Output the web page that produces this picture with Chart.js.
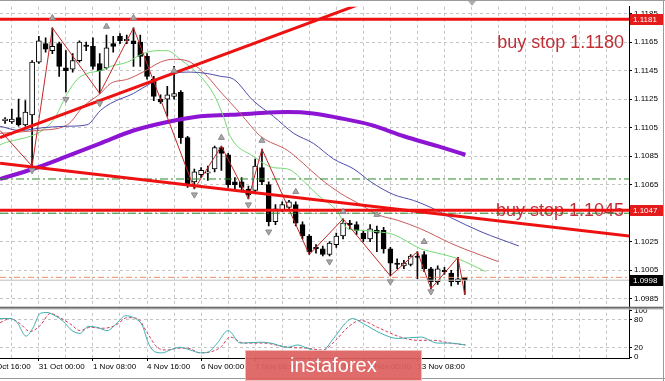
<!DOCTYPE html>
<html>
<head>
<meta charset="utf-8">
<title>EURUSD H4</title>
<script src="https://cdn.jsdelivr.net/npm/chart.js@4.4.1/dist/chart.umd.min.js"></script>
<style>
  html, body { margin: 0; padding: 0; background: #fff; }
</style>
</head>
<body>
<canvas id="chart" width="665" height="381"></canvas>
<script>
// --- bougies H4 (index de barre 0 = 30 Oct 04:00) ---
const barOpen = [
  1.1110, 1.1109, 1.1112, 1.1107, 1.1114, 1.1151, 1.1164, 1.1159, 1.1164, 1.1147,
  1.1146, 1.1152, 1.1163, 1.1162, 1.1150, 1.1147, 1.1164, 1.1169, 1.1166, 1.1166,
  1.1165, 1.1155, 1.1139, 1.1125, 1.1125, 1.1127, 1.1130, 1.1098, 1.1067, 1.1072,
  1.1073, 1.1076, 1.1091, 1.1086, 1.1067, 1.1067, 1.1062, 1.1061, 1.1077, 1.1065,
  1.1039, 1.1047, 1.1049, 1.1051, 1.1037, 1.1029, 1.1021, 1.1020, 1.1016, 1.1023,
  1.1029, 1.1038, 1.1037, 1.1031, 1.1027, 1.1033, 1.1033, 1.1020, 1.1010, 1.1008,
  1.1009, 1.1015, 1.1016, 1.1006, 1.0997, 1.1005, 1.1003, 1.0997, 1.1000
];
const barHigh = [
  1.1112, 1.1118, 1.1125, 1.1124, 1.1152, 1.1169, 1.1168, 1.1175, 1.1165, 1.1159,
  1.1157, 1.1166, 1.1165, 1.1168, 1.1157, 1.1170, 1.1169, 1.1171, 1.1170, 1.1175,
  1.1170, 1.1157, 1.1141, 1.1128, 1.1134, 1.1148, 1.1131, 1.1099, 1.1076, 1.1077,
  1.1078, 1.1092, 1.1092, 1.1087, 1.1070, 1.1070, 1.1064, 1.1083, 1.1090, 1.1067,
  1.1051, 1.1053, 1.1054, 1.1053, 1.1039, 1.1030, 1.1023, 1.1022, 1.1025, 1.1031,
  1.1041, 1.1040, 1.1039, 1.1033, 1.1037, 1.1036, 1.1035, 1.1021, 1.1013, 1.1012,
  1.1016, 1.1018, 1.1018, 1.1007, 1.1008, 1.1007, 1.1005, 1.1014, 1.1000
];
const barLow = [
  1.1108, 1.1108, 1.1106, 1.1106, 1.1078, 1.1150, 1.1158, 1.1157, 1.1141, 1.1130,
  1.1144, 1.1151, 1.1159, 1.1146, 1.1129, 1.1146, 1.1158, 1.1164, 1.1164, 1.1148,
  1.1148, 1.1139, 1.1124, 1.1122, 1.1113, 1.1125, 1.1094, 1.1063, 1.1062, 1.1070,
  1.1068, 1.1074, 1.1075, 1.1063, 1.1062, 1.1060, 1.1055, 1.1060, 1.1065, 1.1036,
  1.1037, 1.1046, 1.1048, 1.1036, 1.1027, 1.1016, 1.1017, 1.1015, 1.1015, 1.1021,
  1.1027, 1.1034, 1.1030, 1.1025, 1.1025, 1.1018, 1.1017, 1.1001, 1.1006, 1.1006,
  1.1008, 1.0999, 1.1004, 1.0992, 1.0995, 1.1002, 1.0994, 1.0995, 1.0988
];
const barClose = [
  1.1111, 1.1111, 1.1107, 1.1116, 1.1151, 1.1166, 1.1160, 1.1162, 1.1148, 1.1145,
  1.1152, 1.1165, 1.1162, 1.1148, 1.1145, 1.1161, 1.1162, 1.1166, 1.1167, 1.1164,
  1.1155, 1.1141, 1.1127, 1.1123, 1.1128, 1.1129, 1.1098, 1.1065, 1.1074, 1.1075,
  1.1074, 1.1091, 1.1087, 1.1065, 1.1065, 1.1063, 1.1058, 1.1078, 1.1067, 1.1039,
  1.1048, 1.1051, 1.1053, 1.1038, 1.1029, 1.1018, 1.1020, 1.1016, 1.1024, 1.1029,
  1.1038, 1.1037, 1.1033, 1.1027, 1.1034, 1.1031, 1.1020, 1.1010, 1.1009, 1.1010,
  1.1015, 1.1014, 1.1006, 1.0997, 1.1006, 1.1004, 1.0997, 1.0999, 1.0998
];

// --- Alligator (décalé vers la droite) + MA violette : [barre, prix] ---
const lipsPts = [[-0.74,1.1093],[7.1,1.1110],[9.2,1.1129],[10.7,1.1139],[12.1,1.1143],[14.1,1.1145],[15.6,1.1148],[18.1,1.1151],[20.4,1.1157],[22.5,1.1159],[24,1.1159],[25.9,1.1153],[28.9,1.1141],[30.8,1.1129],[32.3,1.1113],[33.3,1.1099],[36.7,1.1085],[39.7,1.1077],[41.8,1.1076],[44.7,1.1065],[46.2,1.1058],[49.2,1.1046],[50.7,1.1034],[52.6,1.1033],[55.1,1.1032],[57.5,1.1030],[61.5,1.1020],[64,1.1017],[67,1.1013],[71.1,1.1004]];
const teethPts = [[-0.74,1.1101],[4.7,1.1103],[9.2,1.1107],[11.6,1.1120],[14.1,1.1129],[15.6,1.1136],[18.1,1.1139],[20.4,1.1144],[23,1.1151],[24.9,1.1153],[27.4,1.1151],[29.9,1.1141],[31.9,1.1130],[34.8,1.1115],[37.8,1.1099],[41.8,1.1089],[44.1,1.1080],[46.7,1.1069],[49.6,1.1059],[52.6,1.1051],[55.1,1.1044],[58.1,1.1040],[61.5,1.1034],[65.9,1.1024],[67.9,1.1020],[73,1.1011]];
const jawPts = [[-0.74,1.1106],[2.2,1.1103],[5.6,1.1105],[9.2,1.1106],[12.1,1.1107],[14.1,1.1117],[15.6,1.1122],[19,1.1129],[21.5,1.1136],[24.9,1.1143],[27.4,1.1144],[29.9,1.1143],[31.9,1.1141],[33.8,1.1139],[36.7,1.1124],[39.7,1.1113],[42.7,1.1101],[45.6,1.1094],[48.6,1.1083],[51.6,1.1076],[54.1,1.1067],[57.5,1.1058],[60.4,1.1054],[63,1.1049],[65.9,1.1042],[70.4,1.1032],[76,1.1022]];
const maPts = [[-0.74,1.1069],[4.1,1.1076],[9.2,1.1085],[14.1,1.1094],[19,1.1103],[24,1.1109],[28.9,1.1113],[33.3,1.1114],[36.7,1.1115],[41.8,1.1116],[45.6,1.1115],[49.2,1.1112],[54.1,1.1107],[59,1.1099],[64,1.1092],[68.1,1.1086]];
const zigzagPts = [[-0.74,1.1103],[4,1.1078],[7,1.1175],[14,1.1129],[19,1.1175],[28,1.1062],[32,1.1092],[36,1.1055],[38,1.1090],[45,1.1016],[50,1.1041],[57,1.1001],[61,1.1018],[63,1.0992],[67,1.1014],[68,1.0988]];
const fractalUp = [[7,1.1182],[15,1.1176],[19,1.1182],[25,1.1145],[32,1.1098],[38,1.1096],[43,1.1060],[50,1.1046],[55,1.1044],[62,1.1025]];
const fractalDown = [[4,1.1075],[9,1.1125],[14,1.1122],[28,1.1058],[36,1.1051],[39,1.1032],[48,1.1011],[57,1.0997],[63,1.0990]];

// --- objets graphiques ---
const trendUp = [[-0.74,1.1098],[52.1,1.1191]];
const trendDown = [[-0.74,1.1080],[92.4,1.1029]];
const redLevels = [1.1181, 1.1047];
const greenLevels = [1.1069, 1.1045];
const orangeLevel = 1.1000;
const bidLevel = 1.0998;
const noteTexts = ['buy stop 1.1180', 'buy stop 1.1045'];
const notePrices = [1.1161, 1.1043];
const tagPrices = [1.1181, 1.1047, 1.0998];

// --- stochastique ---
const stochK = [[-0.74,83],[0.74,83],[1.8,74],[3.1,45],[4.1,62],[5.2,94],[6.2,96],[7.4,89],[8.6,77],[9.9,57],[11.1,51],[12.3,66],[13.6,64],[15.1,57],[16.6,74],[17.8,89],[19,85],[20.3,68],[21.2,30],[22.2,11],[23.3,9],[24.4,15],[25.9,21],[27.4,15],[28.9,9],[30.1,11],[31.4,30],[33,57],[34.8,30],[37.8,32],[39.3,30],[41.8,21],[43.3,26],[44.7,19],[46.7,11],[48.6,40],[50.4,74],[51.4,83],[53,72],[55.6,51],[58.1,40],[61.5,43],[64,30],[65.9,30],[68.1,26]];
const stochD = [[-0.74,74],[0.74,83],[2.2,72],[3.7,55],[5.2,68],[6.7,94],[8.1,85],[9.6,72],[11.1,57],[12.6,64],[14.5,62],[16.3,68],[18.1,85],[19.6,83],[21,53],[22.5,21],[24,15],[25.5,19],[27,19],[28.9,9],[30.4,11],[31.9,21],[33.3,43],[35.3,30],[38.2,30],[41.8,21],[44.7,19],[47,15],[48.9,36],[50.7,64],[52.6,79],[55.1,64],[58.5,43],[61,36],[63.4,36],[65.9,30],[68.1,26]];

// --- axes ---
const xMin = -0.75, xMax = 92.3;
const priceMin = 1.09794, priceMax = 1.11898;
const priceTicks = [1.0985, 1.1005, 1.1025, 1.1045, 1.1065, 1.1085, 1.1105, 1.1125, 1.1145, 1.1165, 1.1185];
const stochTicks = [0, 20, 80, 100];
const timeTickBars = [-3, 5, 13, 21, 29, 37, 45, 53, 61];
const timeTickLabels = ['29 Oct 16:00', '31 Oct 00:00', '1 Nov 08:00', '4 Nov 16:00', '6 Nov 00:00', '7 Nov 08:00', '8 Nov 16:00', '12 Nov 00:00', '13 Nov 08:00'];

const FONT = '"Liberation Sans", Arial, sans-serif';
Chart.defaults.font.family = FONT;

const pts = arr => arr.map(p => ({ x: p[0], y: p[1] }));
const flat = v => [{ x: xMin, y: v }, { x: xMax, y: v }];

function lineSet(data, color, width, extra) {
    return Object.assign({
        type: 'line', data: data, borderColor: color, borderWidth: width,
        pointRadius: 0, fill: false, tension: 0, yAxisID: 'y'
    }, extra || {});
}

const wickData = barHigh.map((h, i) => ({ x: i, y: [barLow[i], h] }));
const bodyData = barOpen.map((o, i) => ({ x: i, y: [o, barClose[i]] }));
const bodyColors = barOpen.map((o, i) => barClose[i] >= o ? '#ffffff' : '#000000');

// petits extras façon MT4 : textes, étiquettes de prix, séparateur, filigrane
const mt4Extras = {
    id: 'mt4Extras',
    beforeDatasetsDraw(chart) {
        const ctx = chart.ctx, x = chart.scales.x, y = chart.scales.y;
        ctx.save();
        ctx.font = '18px ' + FONT;
        ctx.fillStyle = '#bf2f37';
        ctx.textAlign = 'right';
        ctx.textBaseline = 'alphabetic';
        noteTexts.forEach((t, k) => ctx.fillText(t, x.getPixelForValue(xMax) - 5, y.getPixelForValue(notePrices[k])));
        ctx.restore();
    },
    afterDatasetsDraw(chart) {
        const ctx = chart.ctx, y = chart.scales.y, area = chart.chartArea;
        ctx.save();
        // séparateur entre les deux fenêtres (prix / stochastique)
        ctx.fillStyle = '#6a6a6a';
        ctx.fillRect(area.left, y.bottom, 663 - area.left, 2);
        ctx.fillStyle = '#c8c8c8';
        ctx.fillRect(area.left, y.bottom + 2, 663 - area.left, 1);
        ctx.restore();
    },
    afterDraw(chart) {
        const ctx = chart.ctx, y = chart.scales.y, area = chart.chartArea;
        ctx.save();
        // étiquettes de prix sur l'axe
        const tagBg = ['#e41b1b', '#e41b1b', '#000000'];
        ctx.font = '8px ' + FONT;
        ctx.textAlign = 'left';
        ctx.textBaseline = 'middle';
        tagPrices.forEach((p, k) => {
            const py = Math.round(y.getPixelForValue(p));
            ctx.fillStyle = tagBg[k];
            ctx.fillRect(area.right + 1, py - 5, 33, 11);
            ctx.fillStyle = '#ffffff';
            ctx.fillText(p.toFixed(4), area.right + 4, py + 0.5);
        });
        // cadre
        ctx.fillStyle = '#9a9a9a';
        ctx.fillRect(0, 0, 665, 1);
        ctx.fillRect(0, 378, 665, 1);
        ctx.fillRect(663, 0, 1, 381);
        // triangle de décalage du graphique
        ctx.fillStyle = '#b0b0b0';
        ctx.beginPath();
        ctx.moveTo(468, 1); ctx.lineTo(476, 1); ctx.lineTo(472, 6); ctx.closePath();
        ctx.fill();
        // filigrane
        ctx.fillStyle = 'rgba(222, 96, 96, 0.93)';
        ctx.fillRect(245, 350, 177, 31);
        ctx.strokeStyle = 'rgba(255,255,255,0.55)';
        ctx.strokeRect(245.5, 350.5, 176, 30);
        ctx.fillStyle = '#ffffff';
        ctx.font = '20px ' + FONT;
        ctx.textBaseline = 'alphabetic';
        ctx.fillText('instaforex', 290, 372);
        ctx.restore();
    }
};

const chart = new Chart(document.getElementById('chart').getContext('2d'), {
    type: 'bar',
    data: {
        datasets: [
            { type: 'bar', data: wickData, backgroundColor: '#000', borderWidth: 0, barThickness: 1, grouped: false, order: 20, yAxisID: 'y' },
            { type: 'bar', data: bodyData, backgroundColor: bodyColors, borderColor: '#000', borderWidth: 1, borderSkipped: false, barThickness: 5, grouped: false, order: 19, yAxisID: 'y' },
            lineSet(pts(maPts), '#8c14d2', 4, { cubicInterpolationMode: 'monotone', order: 12 }),
            lineSet(pts(jawPts), '#4c4ca8', 1, { cubicInterpolationMode: 'monotone', order: 11 }),
            lineSet(pts(teethPts), '#c85a5a', 1, { cubicInterpolationMode: 'monotone', order: 11 }),
            lineSet(pts(lipsPts), '#72d872', 1, { cubicInterpolationMode: 'monotone', order: 11 }),
            lineSet(pts(zigzagPts), '#c42626', 1, { order: 9 }),
            lineSet(flat(greenLevels[0]), '#2b8a2b', 1, { borderDash: [8, 3, 2, 3], order: 8 }),
            lineSet(flat(greenLevels[1]), '#2b8a2b', 1, { borderDash: [8, 3, 2, 3], order: 8 }),
            lineSet(flat(orangeLevel), '#f08a5e', 1, { borderDash: [6, 3, 2, 3], order: 8 }),
            lineSet(flat(bidLevel), '#bdbdbd', 1, { order: 8 }),
            lineSet(pts(trendUp), '#ee1111', 3, { order: 6 }),
            lineSet(pts(trendDown), '#ee1111', 3, { order: 6 }),
            lineSet(flat(redLevels[0]), '#ee1111', 3, { order: 6 }),
            lineSet(flat(redLevels[1]), '#ee1111', 3, { order: 6 }),
            { type: 'scatter', data: pts(fractalUp), pointStyle: 'triangle', pointRadius: 3.5, pointRotation: 0,
              backgroundColor: '#a8a8a8', borderColor: '#8a8a8a', borderWidth: 1, order: 5, yAxisID: 'y' },
            { type: 'scatter', data: pts(fractalDown), pointStyle: 'triangle', pointRadius: 3.5, pointRotation: 180,
              backgroundColor: '#a8a8a8', borderColor: '#8a8a8a', borderWidth: 1, order: 5, yAxisID: 'y' },
            lineSet(pts(stochK), '#3fb0b0', 1, { yAxisID: 'ys', cubicInterpolationMode: 'monotone', order: 3 }),
            lineSet(pts(stochD), '#d43c5c', 1, { yAxisID: 'ys', borderDash: [3, 2], cubicInterpolationMode: 'monotone', order: 3 })
        ]
    },
    options: {
        responsive: false,
        animation: false,
        layout: { padding: { top: 2, left: 0, right: 0, bottom: 0 }, autoPadding: false },
        plugins: { legend: { display: false }, tooltip: { enabled: false } },
        scales: {
            x: {
                type: 'linear', min: xMin, max: xMax, offset: false,
                afterBuildTicks: s => {
                    const t = [];
                    for (let b = -3; b <= xMax; b += 4) t.push({ value: b });
                    s.ticks = t;
                },
                // le premier libellé déborde à gauche comme dans MT4 : pas de marge auto
                afterFit: s => { s.height = 23; s.paddingLeft = 0; s.paddingRight = 0; },
                grid: {
                    offset: false, color: '#c4c4c4', drawTicks: true, tickLength: 3,
                    tickColor: c => (c.tick && timeTickBars.includes(c.tick.value)) ? '#000' : 'rgba(0,0,0,0)'
                },
                border: { display: true, color: '#000', dash: [3, 3] },
                ticks: {
                    autoSkip: false, maxRotation: 0, minRotation: 0, align: 'start', padding: 1,
                    color: '#000', font: { size: 8 },
                    callback: v => {
                        const k = timeTickBars.indexOf(v);
                        return k >= 0 ? timeTickLabels[k] : '';
                    }
                }
            },
            y: {
                type: 'linear', position: 'right', stack: 'panes', stackWeight: 304,
                min: priceMin, max: priceMax,
                afterBuildTicks: s => { s.ticks = priceTicks.map(v => ({ value: v })); },
                afterFit: s => { s.width = 36; },
                grid: { color: '#c4c4c4', tickLength: 3, tickColor: '#000' },
                border: { display: true, color: '#000', dash: [3, 3] },
                ticks: { autoSkip: false, padding: 2, color: '#000', font: { size: 8 }, callback: v => v.toFixed(4) }
            },
            ys: {
                type: 'linear', position: 'right', stack: 'panes', stackWeight: 52,
                min: -2.13, max: 108.5,
                afterBuildTicks: s => { s.ticks = stochTicks.map(v => ({ value: v })); },
                afterFit: s => { s.width = 36; },
                grid: {
                    color: c => (c.tick && (c.tick.value === 20 || c.tick.value === 80)) ? '#c4c4c4' : 'rgba(0,0,0,0)',
                    tickLength: 3, tickColor: '#000'
                },
                border: { display: true, color: '#000', dash: [3, 3] },
                ticks: { autoSkip: false, padding: 2, color: '#000', font: { size: 8 }, callback: v => String(v) }
            }
        }
    },
    plugins: [mt4Extras]
});
console.log('graphique prêt', chart.chartArea);
</script>
</body>
</html>
